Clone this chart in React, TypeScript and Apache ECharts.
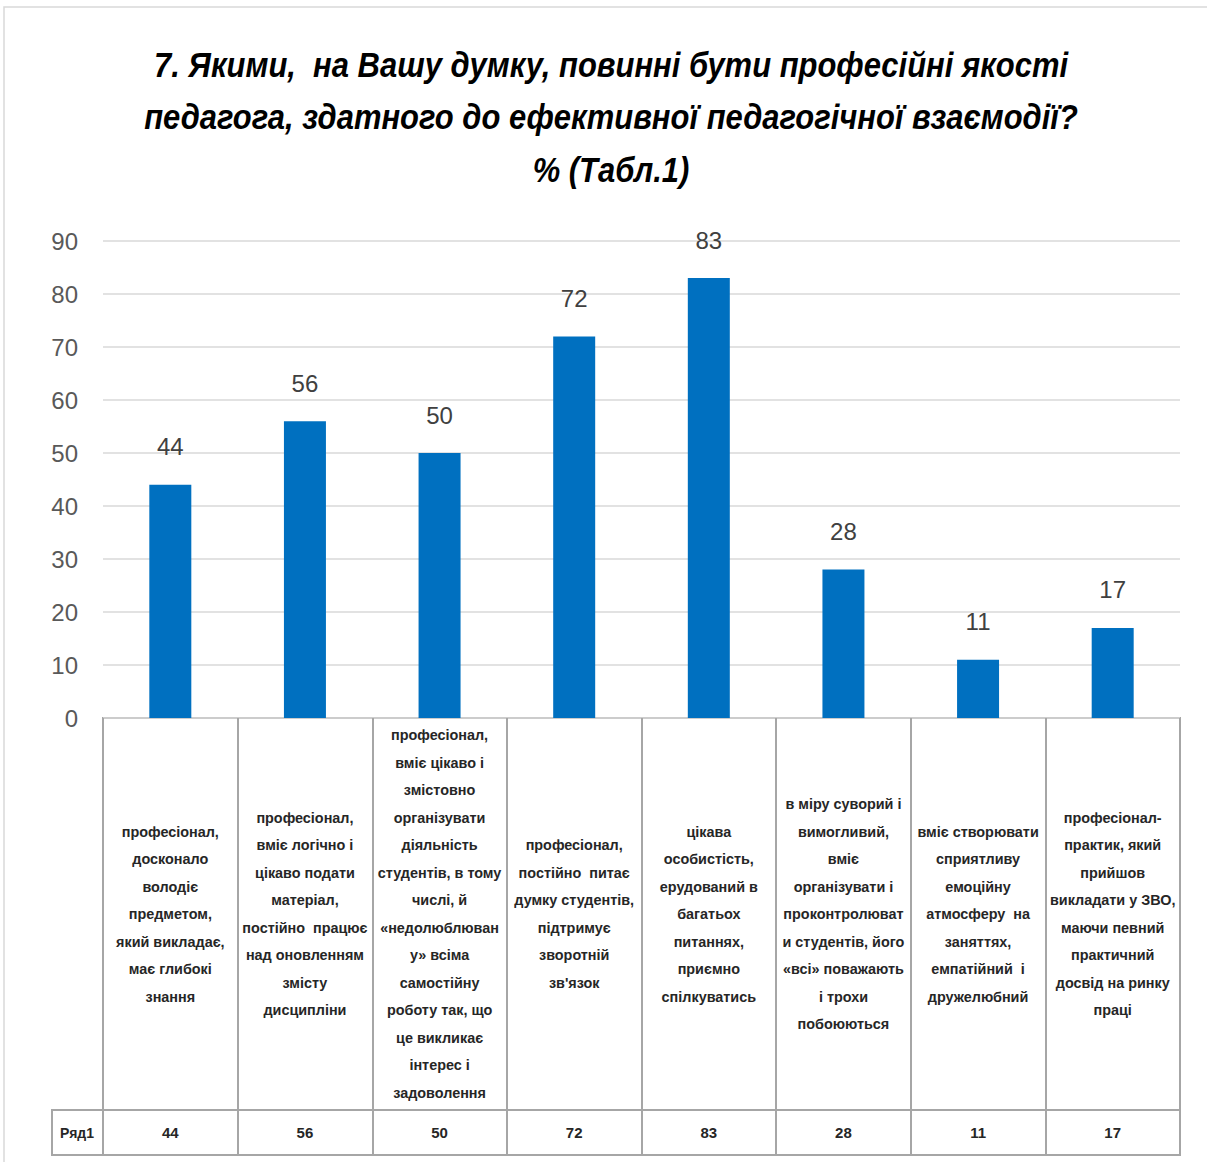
import React, { useEffect, useRef } from "react";
import * as echarts from "echarts";

const categories = [
  "професіонал,\nдосконало\nволодіє\nпредметом,\nякий викладає,\nмає глибокі\nзнання",
  "професіонал,\nвміє логічно і\nцікаво подати\nматеріал,\nпостійно  працює\nнад оновленням\nзмісту\nдисципліни",
  "професіонал,\nвміє цікаво і\nзмістовно\nорганізувати\nдіяльність\nстудентів, в тому\nчислі, й\n«недолюблюван\nу» всіма\nсамостійну\nроботу так, що\nце викликає\nінтерес і\nзадоволення",
  "професіонал,\nпостійно  питає\nдумку студентів,\nпідтримує\nзворотній\nзв'язок",
  "цікава\nособистість,\nерудований в\nбагатьох\nпитаннях,\nприємно\nспілкуватись",
  "в міру суворий і\nвимогливий,\nвміє\nорганізувати і\nпроконтролюват\nи студентів, його\n«всі» поважають\nі трохи\nпобоюються",
  "вміє створювати\nсприятливу\nемоційну\nатмосферу  на\nзаняттях,\nемпатійний  і\nдружелюбний",
  "професіонал-\nпрактик, який\nприйшов\nвикладати у ЗВО,\nмаючи певний\nпрактичний\nдосвід на ринку\nпраці",
];
const values = [44, 56, 50, 72, 83, 28, 11, 17];
const seriesName = "Ряд1";
const titleText =
  "7. Якими,  на Вашу думку, повинні бути професійні якості\nпедагога, здатного до ефективної педагогічної взаємодії?\n% (Табл.1)";

const NARROW = "'Liberation Sans Narrow', 'Liberation Sans', Arial, sans-serif";
const GRID_LINE = "#a6a6a6";

export default function App() {
  const ref = useRef<HTMLDivElement>(null);
  useEffect(() => {
    if (!ref.current) return;
    const chart = echarts.init(ref.current, null, { renderer: "svg" });
    const idx = categories.map((_, i) => i);
    chart.setOption({
      animation: false,
      backgroundColor: "#ffffff",
      graphic: [
        {
          type: "rect",
          shape: { x: 4, y: 7, width: 1210, height: 1160 },
          style: { fill: "none", stroke: "#d9d9d9", lineWidth: 1.5 },
          silent: true,
        },
        {
          type: "text",
          x: 611,
          y: 38,
          scaleX: 0.86,
          style: {
            text: titleText,
            fontFamily: NARROW,
            fontStyle: "italic",
            fontWeight: "bold",
            fontSize: 36,
            lineHeight: 52.5,
            fill: "#000000",
            align: "center",
            verticalAlign: "top",
          },
          silent: true,
        },
        {
          type: "rect",
          shape: { x: 52, y: 1110, width: 51, height: 45 },
          style: { fill: "none", stroke: GRID_LINE, lineWidth: 2 },
          silent: true,
        },
        {
          type: "text",
          x: 77,
          y: 1133,
          style: {
            text: seriesName,
            fontFamily: NARROW,
            fontWeight: "bold",
            fontSize: 14,
            fill: "#262626",
            align: "center",
            verticalAlign: "middle",
          },
          silent: true,
        },
      ],
      grid: [
        { left: 103, top: 241, width: 1077, height: 477 },
        { left: 103, top: 718, width: 1077, height: 392, show: true, borderColor: GRID_LINE, borderWidth: 2 },
        { left: 103, top: 1110, width: 1077, height: 45, show: true, borderColor: GRID_LINE, borderWidth: 2 },
      ],
      xAxis: [
        {
          gridIndex: 0,
          type: "category",
          data: idx,
          axisLine: { show: false },
          axisTick: { show: false },
          axisLabel: { show: false },
        },
        {
          gridIndex: 1,
          type: "category",
          data: idx,
          axisLine: { show: false },
          axisTick: { show: false },
          axisLabel: { show: false },
          splitLine: { show: true, interval: 0, lineStyle: { color: GRID_LINE, width: 2 } },
        },
        {
          gridIndex: 2,
          type: "category",
          data: idx,
          axisLine: { show: false },
          axisTick: { show: false },
          axisLabel: { show: false },
          splitLine: { show: true, interval: 0, lineStyle: { color: GRID_LINE, width: 2 } },
        },
      ],
      yAxis: [
        {
          gridIndex: 0,
          type: "value",
          min: 0,
          max: 90,
          interval: 10,
          axisLine: { show: false },
          axisTick: { show: false },
          axisLabel: { fontFamily: NARROW, fontSize: 24, color: "#595959", margin: 25 },
          splitLine: { lineStyle: { color: "#d9d9d9", width: 1.5 } },
        },
        { gridIndex: 1, type: "value", min: 0, max: 1, show: false },
        { gridIndex: 2, type: "value", min: 0, max: 1, show: false },
      ],
      series: [
        {
          type: "bar",
          name: seriesName,
          xAxisIndex: 0,
          yAxisIndex: 0,
          data: values,
          barWidth: 42,
          itemStyle: { color: "#0070C0" },
          label: {
            show: true,
            position: "top",
            distance: 26,
            fontFamily: NARROW,
            fontSize: 24,
            color: "#404040",
          },
        },
        {
          type: "custom",
          xAxisIndex: 1,
          yAxisIndex: 1,
          data: idx.map((i) => [i, 0.5]),
          renderItem: (params: any, api: any) => {
            const i = api.value(0);
            const p = api.coord([i, 0.5]);
            return {
              type: "text",
              x: p[0],
              y: p[1],
              scaleX: 0.96,
              style: {
                text: categories[i],
                fontFamily: NARROW,
                fontWeight: "bold",
                fontSize: 15,
                lineHeight: 27.5,
                fill: "#262626",
                align: "center",
                verticalAlign: "middle",
              },
            };
          },
        },
        {
          type: "custom",
          xAxisIndex: 2,
          yAxisIndex: 2,
          data: idx.map((i) => [i, 0.5]),
          renderItem: (params: any, api: any) => {
            const i = api.value(0);
            const p = api.coord([i, 0.5]);
            return {
              type: "text",
              x: p[0],
              y: p[1],
              style: {
                text: String(values[i]),
                fontFamily: NARROW,
                fontWeight: "bold",
                fontSize: 15,
                fill: "#262626",
                align: "center",
                verticalAlign: "middle",
              },
            };
          },
        },
      ],
    });
    return () => chart.dispose();
  }, []);
  return (
    <div
      ref={ref}
      style={{ position: "absolute", left: 0, top: 0, width: 1207, height: 1162 }}
    />
  );
}
